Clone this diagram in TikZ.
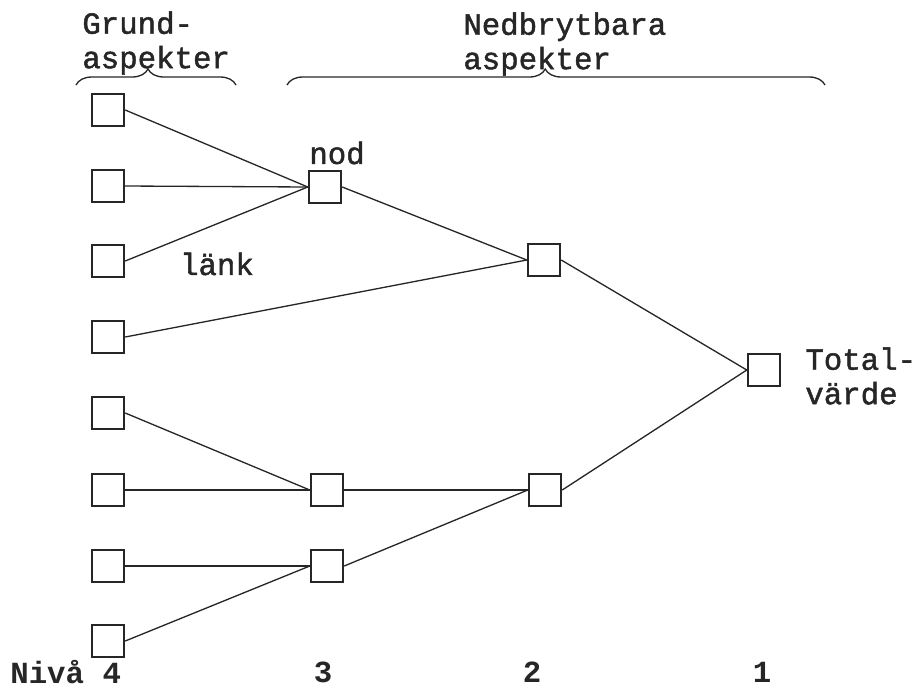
\documentclass[tikz,border=0pt]{standalone}
\usepackage{fontspec}
\setmonofont{Liberation Mono}
\newfontfamily\typewr{Liberation Mono}[FakeBold=1.5]
\usepackage{xcolor}
\usepackage{tikz}
\usetikzlibrary{positioning, decorations.pathreplacing}
\definecolor{Ink}{HTML}{262626}

\begin{document}
\begin{tikzpicture}[
  x=0.02cm, y=-0.02cm,
  font=\typewr\fontsize{17.5}{19.6}\selectfont,
  box/.style={draw=Ink, line width=1.4pt, minimum size=0.64cm, inner sep=0pt, fill=white},
  link/.style={draw=Ink, line width=0.75pt},
  curly/.style={draw=Ink, line width=0.75pt, decorate},
  caption/.style={text=Ink, align=left, inner sep=0pt},
  level/.style={text=Ink, inner sep=0pt, font=\ttfamily\bfseries\fontsize{17.5}{19}\selectfont}
]
\useasboundingbox (0,0) rectangle (922,690);

% grundaspekter (niva 4)
\node[box] (g1) at (108,110) {};
\node[box] (g2) at (108,186) {};
\node[box] (g3) at (108,261) {};
\node[box] (g4) at (108,337) {};
\node[box] (g5) at (108,413) {};
\node[box] (g6) at (108,490) {};
\node[box] (g7) at (108,566) {};
\node[box] (g8) at (108,641) {};

% nedbrytbara aspekter
\node[box] (n1) at (325,187) {};
\node[box] (n2) at (327,490) {};
\node[box] (n3) at (327,566) {};
\node[box] (m1) at (544,260) {};
\node[box] (m2) at (545,490) {};
\node[box] (total) at (764,370) {};

% lankar
\draw[link] (g1.east) -- (n1.west);
\draw[link] (g2.east) -- (n1.west);
\draw[link] (g3.east) -- (n1.west);
\draw[link] (n1.east) -- (m1.west);
\draw[link] (g4.east) -- (m1.west);
\draw[link] (g5.east) -- (n2.west);
\draw[link] (g6.east) -- (n2.west);
\draw[link] (n2.east) -- (m2.west);
\draw[link] (g7.east) -- (n3.west);
\draw[link] (g8.east) -- (n3.west);
\draw[link] (n3.east) -- (m2.west);
\draw[link] (m1.east) -- (total.west);
\draw[link] (m2.east) -- (total.west);

% texter
\node[caption] (nod) at (337,153) {nod};
\node[caption] (lank) at (217,264) {länk};
\node[caption, anchor=west] (totalv) at (805,376) {Total-\\värde};
\node[caption, anchor=west] (grund) at (82,43) {Grund-\\aspekter};
\node[caption, anchor=west] (nedbr) at (463,44) {Nedbrytbara\\aspekter};

% klamrar
\coordinate (b1l) at (76,85);
\coordinate (b1r) at (236,85);
\coordinate (b2l) at (287,85);
\coordinate (b2r) at (825,85);
\draw[curly, decoration={brace, amplitude=0.32cm, aspect=0.45}] (b1l) -- (b1r);
\draw[curly, decoration={brace, amplitude=0.32cm, aspect=0.48}] (b2l) -- (b2r);

% nivaer
\node[level, anchor=west] (niva4) at (10,672) {Nivå 4};
\node[level] (niva3) at (323,672) {3};
\node[level] (niva2) at (532,672) {2};
\node[level] (niva1) at (762,672) {1};
\end{tikzpicture}
\end{document}
